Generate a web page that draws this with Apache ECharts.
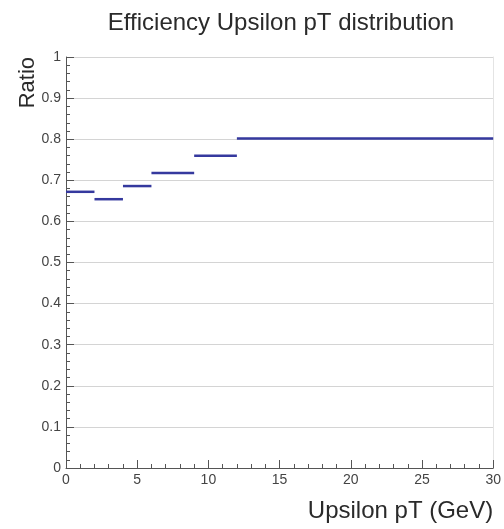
<!DOCTYPE html>
<html>
<head>
<meta charset="utf-8">
<script src="https://cdn.jsdelivr.net/npm/echarts@6/dist/echarts.min.js"></script>
<style>html,body{margin:0;padding:0;background:#fff;}#c{width:504px;height:529px;}</style>
</head>
<body>
<div id="c"></div>
<script>
const binEdges = [0, 2, 4, 6, 9, 12, 30];
const efficiency = [0.672, 0.654, 0.686, 0.718, 0.760, 0.802];
const yTicks = [0, 0.1, 0.2, 0.3, 0.4, 0.5, 0.6, 0.7, 0.8, 0.9, 1];
const xTicks = [0, 5, 10, 15, 20, 25, 30];

const binData = efficiency.map((v, i) => [binEdges[i], binEdges[i + 1], v]);

const chart = echarts.init(document.getElementById('c'), null, {renderer: 'canvas'});
const font = 'Liberation Sans, Arial, Helvetica, sans-serif';
chart.setOption({
  animation: false,
  backgroundColor: '#fff',
  title: {
    text: 'Efficiency Upsilon pT distribution',
    left: 276, top: 6, textAlign: 'center',
    textStyle: {fontFamily: font, fontSize: 24, fontWeight: 'normal', color: '#2a2a2a'}
  },
  graphic: [{
    type: 'text', x: 28, y: 57, rotation: Math.PI / 2,
    style: {text: 'Ratio', align: 'right', verticalAlign: 'middle',
      font: '22px Liberation Sans, Arial, sans-serif', fill: '#2a2a2a'}
  }],
  grid: {left: 66, right: 10, top: 57, bottom: 61, containLabel: false},
  xAxis: {
    type: 'value', min: 0, max: 30, interval: 5,
    name: 'Upsilon pT (GeV)', nameLocation: 'end', nameGap: 0,
    nameTextStyle: {fontFamily: font, fontSize: 24, color: '#2a2a2a', align: 'right', verticalAlign: 'top', padding: [31, 0, 0, 0]},
    axisLine: {show: true, lineStyle: {color: '#555', width: 1}},
    axisTick: {show: true, inside: true, length: 8, lineStyle: {color: '#555'}},
    minorTick: {show: true, splitNumber: 5, length: 4, lineStyle: {color: '#555'}},
    axisLabel: {fontFamily: font, fontSize: 14, color: '#444', margin: 5,
      formatter: v => String(v)},
    splitLine: {show: false}
  },
  yAxis: [{
    type: 'value', min: 0, max: 1, interval: 0.1,
    axisLine: {show: true, lineStyle: {color: '#555', width: 1}},
    axisTick: {show: true, inside: true, length: 8, lineStyle: {color: '#555'}},
    minorTick: {show: true, splitNumber: 5, length: 4, lineStyle: {color: '#555'}},
    axisLabel: {fontFamily: font, fontSize: 14, color: '#444', margin: 5,
      formatter: v => String(+v.toFixed(1))},
    splitLine: {show: true, lineStyle: {color: '#d4d4d4', width: 1}}
  }, {
    type: 'value', min: 0, max: 1, position: 'right',
    axisLine: {show: true, lineStyle: {color: '#e4e4e4'}},
    axisTick: {show: false}, axisLabel: {show: false}, splitLine: {show: false}
  }],
  series: [{
    type: 'custom',
    data: binData,
    encode: {x: [0, 1], y: 2},
    renderItem: (params, api) => {
      const p0 = api.coord([api.value(0), api.value(2)]);
      const p1 = api.coord([api.value(1), api.value(2)]);
      return {
        type: 'line',
        shape: {x1: p0[0], y1: p0[1], x2: p1[0], y2: p1[1]},
        style: {stroke: '#35399e', lineWidth: 2.5}
      };
    }
  }]
});
</script>
</body>
</html>
